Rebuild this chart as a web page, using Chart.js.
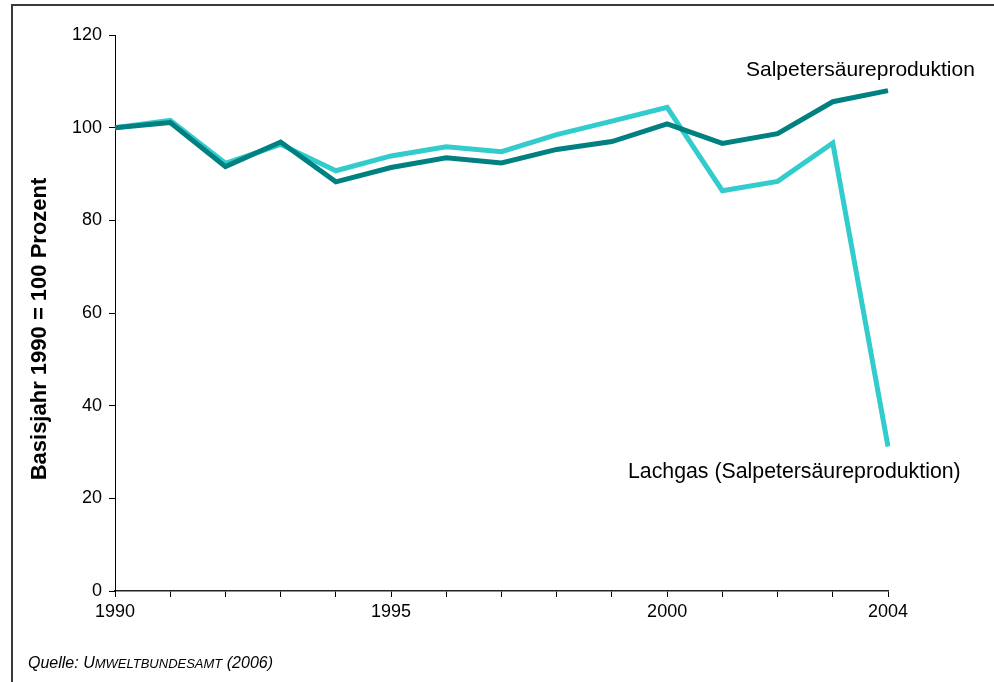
<!DOCTYPE html>
<html>
<head>
<meta charset="utf-8">
<script src="https://cdn.jsdelivr.net/npm/chart.js@4"></script>
<style>
  body { margin: 0; background: #fff; }
  #wrap { position: relative; width: 994px; height: 682px; overflow: hidden; }
  #frame {
    position: absolute; left: 11px; top: 4px; right: -10px; bottom: -10px;
    border-left: 2px solid #3a3a3a; border-top: 2px solid #3a3a3a;
  }
  #source {
    position: absolute; left: 28px; top: 654px;
    font: italic 16px "Liberation Sans", Arial, sans-serif; color: #000;
  }
  #source .sc { font-size: 13px; }
</style>
</head>
<body>
<div id="wrap">
  <div id="frame"></div>
  <canvas id="chart" width="994" height="682"></canvas>
  <div id="source">Quelle: U<span class="sc">MWELTBUNDESAMT</span> (2006)</div>
</div>
<script>
// --- data ---
const years = ['1990', '1991', '1992', '1993', '1994', '1995', '1996', '1997',
               '1998', '1999', '2000', '2001', '2002', '2003', '2004'];
const shownYears = ['1990', '1995', '2000', '2004'];
const salpeterValues = [100, 101.1, 91.6, 96.9, 88.3, 91.4, 93.5, 92.4,
                        95.3, 97.0, 100.8, 96.6, 98.7, 105.6, 108.0];
const lachgasValues = [100, 101.6, 92.3, 96.4, 90.7, 93.9, 95.9, 94.8,
                       98.5, 101.4, 104.4, 86.4, 88.4, 96.7, 31.2];
const yTicks = [0, 20, 40, 60, 80, 100, 120];

const FONT = '"Liberation Sans", Arial, sans-serif';

// series labels and rotated y title, drawn on the canvas
const labelsPlugin = {
    id: 'labels',
    afterDraw(chart) {
        const ctx = chart.ctx;
        ctx.save();
        ctx.fillStyle = '#000';
        ctx.textBaseline = 'alphabetic';
        ctx.textAlign = 'left';
        ctx.font = '21px ' + FONT;
        ctx.fillText('Salpetersäureproduktion', 746, 76);
        ctx.font = '21.3px ' + FONT;
        ctx.fillText('Lachgas (Salpetersäureproduktion)', 628, 478);

        // y axis title
        ctx.translate(40, 329);
        ctx.rotate(-Math.PI / 2);
        ctx.textAlign = 'center';
        ctx.textBaseline = 'middle';
        ctx.font = 'bold 22px ' + FONT;
        ctx.fillText('Basisjahr 1990 = 100 Prozent', 0, 0);
        ctx.restore();
    }
};

new Chart(document.getElementById('chart'), {
    type: 'line',
    data: {
        labels: years,
        datasets: [
            {
                label: 'Salpetersäureproduktion',
                data: salpeterValues,
                borderColor: '#008080',
                borderWidth: 5,
                pointRadius: 0,
                tension: 0
            },
            {
                label: 'Lachgas (Salpetersäureproduktion)',
                data: lachgasValues,
                borderColor: '#33CCCC',
                borderWidth: 5,
                pointRadius: 0,
                tension: 0
            }
        ]
    },
    options: {
        responsive: false,
        animation: false,
        layout: { padding: { left: 0, top: 35, right: 106, bottom: 0 } },
        plugins: {
            legend: { display: false },
            tooltip: { enabled: false }
        },
        scales: {
            x: {
                type: 'category',
                offset: false,
                grid: { drawOnChartArea: false, drawTicks: true, tickLength: 6, color: '#000' },
                border: { display: true, color: '#222', width: 1.5 },
                ticks: {
                    autoSkip: false,
                    maxRotation: 0,
                    padding: 4,
                    color: '#000',
                    font: { family: FONT, size: 18 },
                    callback: function (val) {
                        const lbl = this.getLabelForValue(val);
                        return shownYears.includes(lbl) ? lbl : '';
                    }
                },
                afterFit: s => { s.height = 91; }
            },
            y: {
                min: yTicks[0],
                max: yTicks[yTicks.length - 1],
                afterBuildTicks: s => { s.ticks = yTicks.map(v => ({ value: v })); },
                grid: { drawOnChartArea: false, drawTicks: true, tickLength: 6, color: '#000' },
                border: { display: true, color: '#000', width: 1 },
                ticks: {
                    padding: 7,
                    color: '#000',
                    font: { family: FONT, size: 18 }
                },
                afterFit: s => { s.width = 115; }
            }
        }
    },
    plugins: [labelsPlugin]
});
</script>
</body>
</html>
